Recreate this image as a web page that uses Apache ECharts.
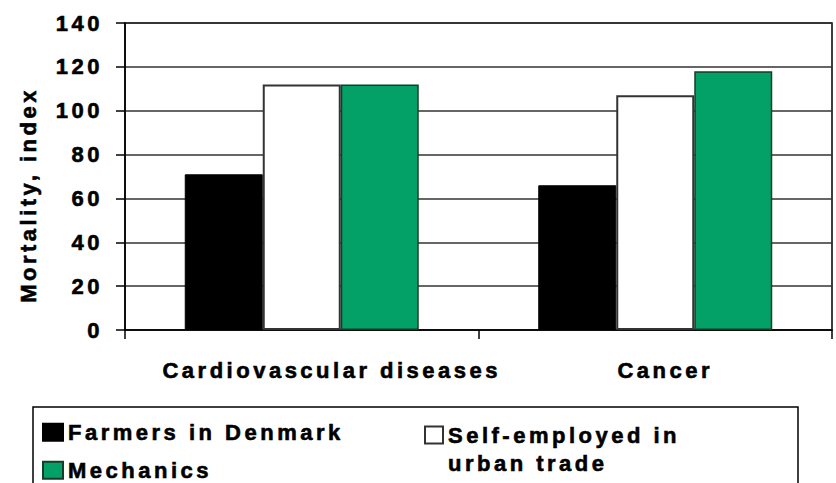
<!DOCTYPE html>
<html>
<head>
<meta charset="utf-8">
<script src="https://cdn.jsdelivr.net/npm/echarts@6/dist/echarts.min.js"></script>
<style>
    html, body { margin: 0; padding: 0; background: #fff; }
    #chart { width: 836px; height: 483px; }
    /* the original uses wide tracking on all text */
    #chart text { letter-spacing: 3.5px; }
</style>
</head>
<body>
<div id="chart"></div>
<script>
const categories = ["Cardiovascular diseases", "Cancer"];
const farmers = [71, 66];
const selfEmployed = [112, 107];
const mechanics = [112, 118];
const yTicks = [0, 20, 40, 60, 80, 100, 120, 140];

// heavy bold text, slightly thickened to look like the original
const txt = {
    fontFamily: "Liberation Sans",
    fontWeight: "bold",
    fontSize: 22,
    color: "#000",
    textBorderColor: "#000",
    textBorderWidth: 0.6,
};

let chart = echarts.init(document.getElementById("chart"), null, { renderer: "svg" });

function legendItem(name, left, top, w, extra) {
    return Object.assign({
        data: [name],
        left: left,
        top: top,
        padding: 0,
        icon: "rect",
        itemWidth: w,
        itemHeight: 17,
        textStyle: txt,
        selectedMode: false,
    }, extra || {});
}

let option = {
    animation: false,
    backgroundColor: "#fff",
    grid: {
        left: 125,
        right: 4,
        top: 23,
        bottom: 153,
        show: true,
        borderColor: "#000",
        borderWidth: 1.5,
    },
    legend: [
        legendItem("Farmers in Denmark", 42, 421, 20),
        legendItem("Mechanics", 42, 459, 20),
        legendItem("Self-employed in urban trade", 424, 393, 18, {
            // empty first line keeps the icon level with the first text line
            formatter: () => "\nSelf-employed in\nurban trade",
            textStyle: Object.assign({}, txt, { lineHeight: 28 }),
        }),
    ],
    graphic: [
        {
            type: "rect",
            shape: { x: 33, y: 407, width: 765, height: 120 },
            style: { fill: "none", stroke: "#000", lineWidth: 1.5 },
            silent: true,
        },
    ],
    xAxis: {
        type: "category",
        data: [
            { value: categories[0], textStyle: { padding: [0, 0, 0, 60] } },
            { value: categories[1], textStyle: { padding: [0, 0, 0, 20] } },
        ],
        axisLine: { lineStyle: { color: "#000", width: 1.5 } },
        axisTick: { show: true, length: 9, lineStyle: { color: "#000", width: 1.5 } },
        axisLabel: Object.assign({ margin: 29 }, txt),
    },
    yAxis: {
        type: "value",
        min: yTicks[0],
        max: yTicks[yTicks.length - 1],
        interval: 20,
        name: "Mortality, index",
        nameLocation: "middle",
        nameGap: 86,
        nameTextStyle: Object.assign({ padding: [0, 37, 0, 0] }, txt),
        axisLine: { show: true, lineStyle: { color: "#000", width: 1.5 } },
        axisTick: { show: true, length: 9, lineStyle: { color: "#000", width: 1.5 } },
        axisLabel: Object.assign({ margin: 22 }, txt),
        splitLine: { lineStyle: { color: "#333", width: 1.5 } },
    },
    series: [
        {
            name: "Farmers in Denmark",
            type: "bar",
            barWidth: 78,
            barGap: "0%",
            itemStyle: { color: "#000", borderColor: "#000", borderWidth: 1 },
            data: farmers,
        },
        {
            name: "Self-employed in urban trade",
            type: "bar",
            barWidth: 78,
            barGap: "0%",
            itemStyle: { color: "#fff", borderColor: "#333", borderWidth: 2 },
            data: selfEmployed,
        },
        {
            name: "Mechanics",
            type: "bar",
            barWidth: 78,
            barGap: "0%",
            itemStyle: { color: "#03a068", borderColor: "#173d2a", borderWidth: 1.5 },
            data: mechanics,
        },
    ],
};
chart.setOption(option);
</script>
</body>
</html>
